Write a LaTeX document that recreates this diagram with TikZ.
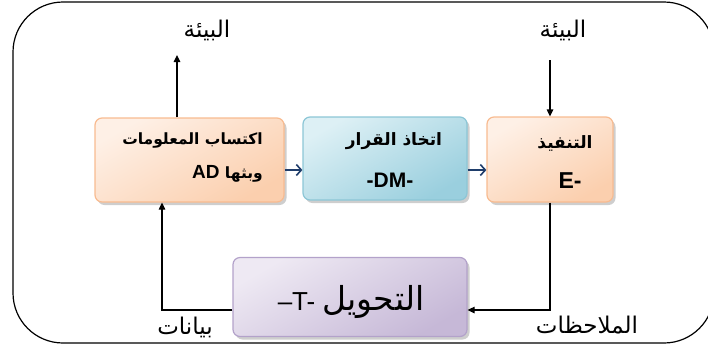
\documentclass[tikz,border=0pt]{standalone}
\usepackage{fontspec}
\setmainfont{Liberation Sans}
\newfontfamily\arabicfont[Script=Arabic]{DejaVu Sans}
\newfontfamily\latinfont{Liberation Sans}
\TeXXeTstate=1
\usetikzlibrary{arrows.meta,shadows}
\definecolor{peachfill}{HTML}{FBCFAE}
\definecolor{peachlight}{HTML}{FEF0E6}
\definecolor{peachedge}{HTML}{F8BB90}
\definecolor{bluefill}{HTML}{9ACFDE}
\definecolor{bluelight}{HTML}{DDF0F5}
\definecolor{blueedge}{HTML}{8CC6D6}
\definecolor{lilacfill}{HTML}{C6B8D7}
\definecolor{lilaclight}{HTML}{EEE9F3}
\definecolor{lilacedge}{HTML}{B3A2CA}
\definecolor{flowblue}{HTML}{1F3D6B}
\tikzset{
  stagebox/.style={rounded corners=7pt, line width=1.2pt,
    drop shadow={shadow xshift=2.5pt, shadow yshift=-3pt, fill=black!35, opacity=0.55},
    inner sep=0pt},
  peachbox/.style={stagebox, draw=peachedge, top color=peachlight, bottom color=peachfill, shading angle=30},
  bluebox/.style={stagebox, draw=blueedge, top color=bluelight, bottom color=bluefill, shading angle=30},
  lilacbox/.style={stagebox, draw=lilacedge, top color=lilaclight, bottom color=lilacfill, shading angle=30},
  flow/.style={line width=1.2pt, -{Triangle[length=7pt,width=6.5pt]}},
  link/.style={line width=1.5pt, draw=flowblue, -{Straight Barb[length=5pt,width=11pt,line width=1.6pt]}},
  lbl/.style={font=\arabicfont\fontsize{23}{26}\selectfont, inner sep=0pt},
  boxtext/.style={font=\arabicfont\bfseries\fontsize{17}{20}\selectfont, inner sep=0pt},
  boxtextsmall/.style={boxtext, font=\arabicfont\bfseries\fontsize{15.5}{18}\selectfont},
  boxcode/.style={font=\latinfont\bfseries\fontsize{21}{24}\selectfont, inner sep=0pt}
}
\begin{document}
\begin{tikzpicture}[x=1pt,y=-1pt]
  \useasboundingbox (0,0) rectangle (708,346);
  \begin{scope}
    \clip (0,0) rectangle (708,346);
    % outer frame
    \draw[line width=1.2pt, rounded corners=50pt] (13,2) rectangle (714,343);
  \end{scope}

  % stage boxes
  \node[peachbox, minimum width=189pt, minimum height=84pt] (AD) at (189.5,160) {};
  \node[bluebox, minimum width=164pt, minimum height=83pt] (DM) at (385,158.5) {};
  \node[peachbox, minimum width=126pt, minimum height=85pt] (E) at (550,159.5) {};
  \node[lilacbox, minimum width=234pt, minimum height=79pt] (T) at (350,297) {};

  % box captions
  \node[boxtextsmall, anchor=east] (ADa) at (263,140) {\beginR اكتساب المعلومات\endR};
  \node[boxtextsmall, anchor=east] (ADb) at (263,174) {\beginR وبثها \beginL{\latinfont\bfseries\fontsize{19}{21}\selectfont AD}\endL\endR};
  \node[boxtext] (DMa) at (394,141) {\beginR اتخاذ القرار\endR};
  \node[boxcode] (DMb) at (390,180) {-DM-};
  \node[boxtext] (Ea) at (565,143) {\beginR التنفيذ\endR};
  \node[boxcode, font=\latinfont\bfseries\fontsize{23}{25}\selectfont] (Eb) at (570,181) {E-};
  \node[inner sep=0pt, font=\latinfont\fontsize{26}{28}\selectfont] (Ta) at (351,302)
    {–T- {\arabicfont\fontsize{33}{36}\selectfont\beginR التحويل\endR}};

  % free labels
  \node[lbl] (envA) at (207,30) {\beginR البيئة\endR};
  \node[lbl] (envE) at (563,30) {\beginR البيئة\endR};
  \node[lbl] (dataL) at (185,327) {\beginR بيانات\endR};
  \node[lbl] (obsL) at (587,325) {\beginR الملاحظات\endR};

  % connector end points
  \coordinate (upA) at (177,55);
  \coordinate (inE) at (550,60);
  \coordinate (mid) at (0,170);
  \coordinate (fb) at (0,310);
  \coordinate (back) at (162,310);

  % connectors
  \draw[flow] (AD.north -| upA) -- (upA);
  \draw[flow] (inE) -- (E.north);
  \draw[link] (AD.east |- mid) -- (DM.west |- mid);
  \draw[link] (DM.east |- mid) -- (E.west |- mid);
  \draw[flow] (E.south) |- (T.east |- fb);
  \draw[flow] (T.west |- fb) -- (back) -- (AD.south -| back);
\end{tikzpicture}
\end{document}
